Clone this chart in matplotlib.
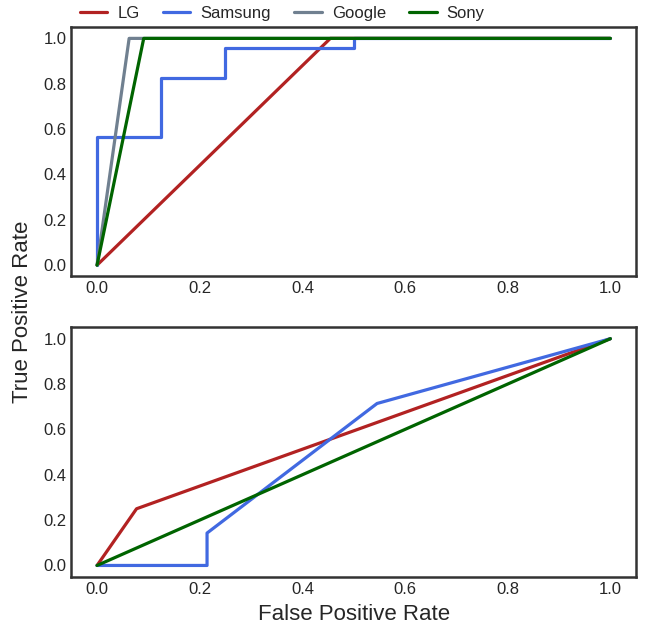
from matplotlib import pyplot as plt

plt.style.use('seaborn-v0_8-white')
plt.rcParams['font.family'] = ['Liberation Sans', 'DejaVu Sans']

names = ['LG', 'Samsung', 'Google', 'Sony']
colors = ['firebrick', 'royalblue', 'slategray', 'darkgreen']

# top panel curves
top_fpr = {
    'LG': [0, 5/11, 1],
    'Samsung': [0, 0, 0.125, 0.125, 0.25, 0.25, 0.5, 0.5, 1],
    'Google': [0, 0.0625, 1],
    'Sony': [0, 1/11, 1],
}
top_tpr = {
    'LG': [0, 1, 1],
    'Samsung': [0, 13/23, 13/23, 19/23, 19/23, 22/23, 22/23, 1, 1],
    'Google': [0, 1, 1],
    'Sony': [0, 1, 1],
}

# bottom panel curves
bot_fpr = {
    'LG': [0, 1/13, 1],
    'Samsung': [0, 3/14, 3/14, 6/11, 1],
    'Sony': [0, 1],
}
bot_tpr = {
    'LG': [0, 0.25, 1],
    'Samsung': [0, 0, 1/7, 5/7, 1],
    'Sony': [0, 1],
}

fig, (ax1, ax2) = plt.subplots(2, 1, figsize=(6.49, 6.29), dpi=100)

for name, c in zip(names, colors):
    ax1.plot(top_fpr[name], top_tpr[name], color=c, lw=2.3, label=name)
    if name in bot_fpr:
        ax2.plot(bot_fpr[name], bot_tpr[name], color=c, lw=2.3)

for ax in (ax1, ax2):
    ax.set_xlim(-0.05, 1.05)
    ax.set_ylim(-0.05, 1.05)
    ax.tick_params(labelsize=12, colors='0.15')
    for sp in ax.spines.values():
        sp.set_color('0.2')
        sp.set_linewidth(1.8)

ax2.set_xlabel('False Positive Rate', fontsize=16, color='0.15', labelpad=5)
fig.text(0.035, 0.505, 'True Positive Rate', rotation=90, fontsize=16,
         color='0.15', ha='center', va='center')

fig.legend(loc='upper center', ncol=4, frameon=False, fontsize=12,
           bbox_to_anchor=(0.435, 1.015), handlelength=1.65, handletextpad=0.6,
           columnspacing=1.4)

fig.subplots_adjust(left=0.11, right=0.98, top=0.957, bottom=0.083, hspace=0.204)
fig.savefig('out.png')
